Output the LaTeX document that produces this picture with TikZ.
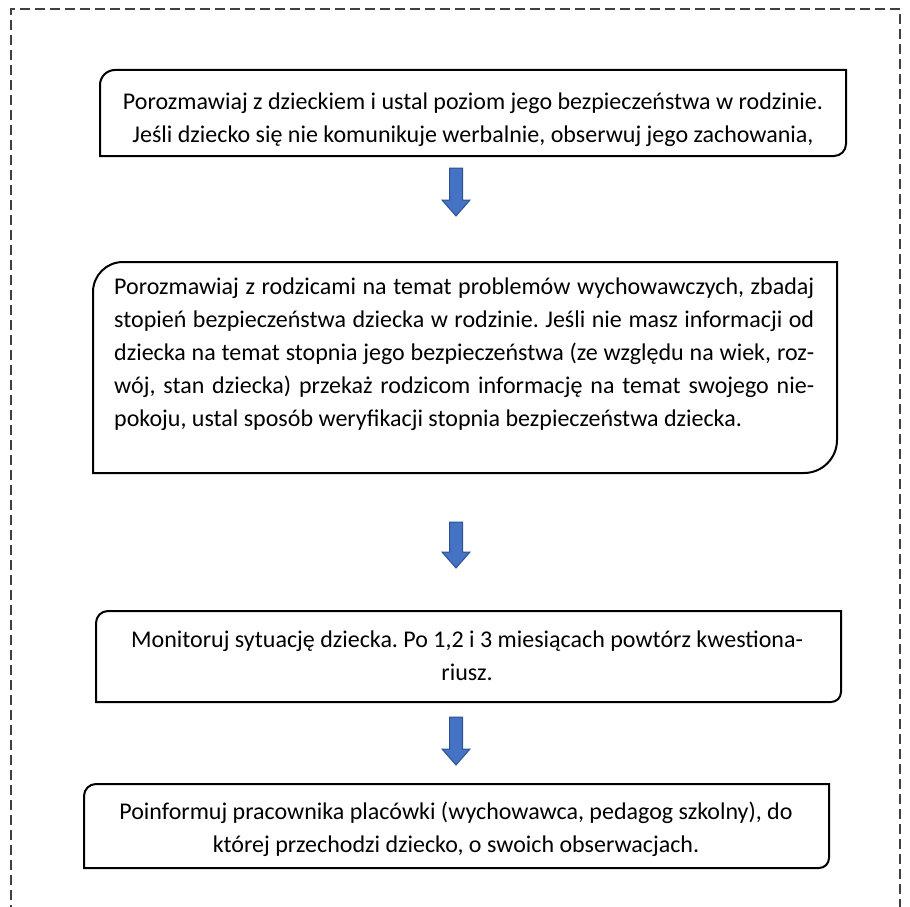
\documentclass[tikz,border=0pt]{standalone}
\usepackage{fontspec}
\setmainfont{Carlito}
\frenchspacing
\definecolor{arrowblue}{RGB}{68,114,196}
\definecolor{arrowedge}{RGB}{47,82,143}
\tikzset{
  frame/.style={draw=black!75, line width=1.3pt, dash pattern=on 10pt off 5pt},
  boxline/.style={draw=black, line width=2pt},
  txt/.style={inner sep=0pt, font=\fontsize{24}{33}\selectfont},
  blockarrow/.style={fill=arrowblue, draw=arrowedge, line width=1pt, line join=miter},
}
\newcommand\dbox[6]{%
  \draw[boxline] (#1+#5,#2) -- (#3,#2) -- (#3,#4-#6)
    arc[start angle=0,end angle=90,radius=#6] -- (#1,#4) -- (#1,#2+#5)
    arc[start angle=180,end angle=270,radius=#5] -- cycle;}
\newcommand\barrow[3]{%
  \draw[blockarrow] (#1-6.5,#2) -- (#1+6.5,#2) -- (#1+6.5,#3-16) -- (#1+14,#3-16)
    -- (#1,#3) -- (#1-14,#3-16) -- (#1-6.5,#3-16) -- cycle;}
\begin{document}
\frenchspacing
\begin{tikzpicture}[x=1pt,y=-1pt]
\useasboundingbox (0,0) rectangle (910,907);
% outer dashed frame (bottom edge outside the picture)
\draw[frame] (11,915) -- (11,9) -- (900,9) -- (900,915);
% boxes
\dbox{100}{70}{846}{156}{15}{12}
\dbox{93}{262}{837}{473}{30}{33}
\dbox{96}{611}{841}{702}{12}{10}
\dbox{84}{784}{829}{868}{12}{10}
% texts
\node[txt, align=center] (t1) at (473,120) {Porozmawiaj z dzieckiem i ustal poziom jego bezpieczeństwa w rodzinie.\\Jeśli dziecko się nie komunikuje werbalnie, obserwuj jego zachowania,};
\node[txt, align=left, anchor=west] (t2) at (114,354) {%
\makebox[700pt][s]{Porozmawiaj z rodzicami na temat problemów wychowawczych, zbadaj}\\
\makebox[700pt][s]{stopień bezpieczeństwa dziecka w rodzinie. Jeśli nie masz informacji od}\\
\makebox[700pt][s]{dziecka na temat stopnia jego bezpieczeństwa (ze względu na wiek, roz-}\\
\makebox[700pt][s]{wój, stan dziecka) przekaż rodzicom informację na temat swojego nie-}\\
pokoju, ustal sposób weryfikacji stopnia bezpieczeństwa dziecka.};
\node[txt, align=center] (t3) at (467,656) {Monitoruj sytuację dziecka. Po 1,2 i 3 miesiącach powtórz kwestiona-\\riusz.};
\node[txt, align=center] (t4) at (456,829) {Poinformuj pracownika placówki (wychowawca, pedagog szkolny), do\\której przechodzi dziecko, o swoich obserwacjach.};
% arrows
\barrow{456}{168}{216}
\barrow{456}{522}{568}
\barrow{456}{717}{765}
\end{tikzpicture}
\end{document}
